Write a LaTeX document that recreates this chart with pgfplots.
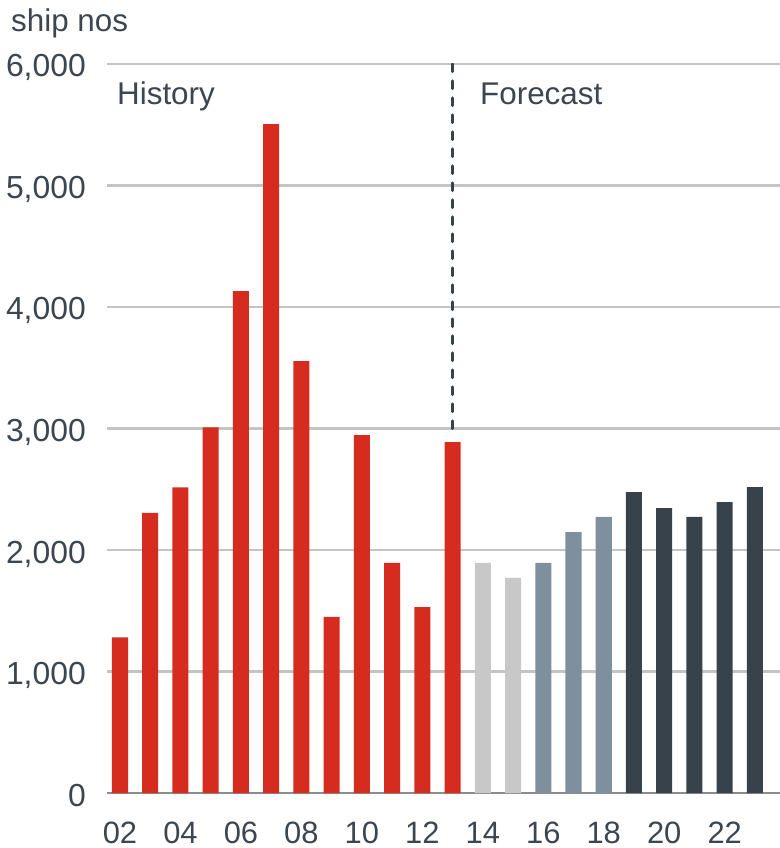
\documentclass[border=0pt]{standalone}
\usepackage{fontspec}
\setmainfont{Liberation Sans}
\usepackage{pgfplots}
\pgfplotsset{compat=1.18}

\definecolor{histred}{RGB}{214,43,31}
\definecolor{lightg}{RGB}{200,200,200}
\definecolor{bluegray}{RGB}{126,143,158}
\definecolor{darkslate}{RGB}{56,66,75}
\definecolor{txt}{RGB}{60,70,80}
\definecolor{gridg}{RGB}{196,196,196}
\definecolor{axisg}{RGB}{140,140,140}

\begin{document}
\begin{tikzpicture}
\path[use as bounding box] (0,0) rectangle (780bp,848bp);
\begin{axis}[
    at={(107bp,55bp)}, anchor=south west,
    scale only axis,
    width=673bp, height=729bp,
    xmin=1.57, xmax=23.83,
    ymin=0, ymax=6000,
    ybar, bar width=0.53, bar shift=0pt,
    axis x line*=bottom, axis y line*=left,
    x axis line style={-, draw=axisg, line width=2.5bp},
    y axis line style={draw=none},
    major tick length=0pt,
    ymajorgrids,
    grid style={gridg, line width=2.2bp},
    xtick={2,4,...,22},
    xticklabels={02,04,06,08,10,12,14,16,18,20,22},
    ytick={0,1000,...,6000},
    yticklabels={0,{1,000},{2,000},{3,000},{4,000},{5,000},{6,000}},
    tick label style={text=txt, inner sep=0pt},
    xticklabel style={font=\fontsize{31}{36}\selectfont, anchor=base, yshift=-50bp},
    yticklabel style={font=\fontsize{32}{38}\selectfont, anchor=base east, xshift=-21bp, yshift=-13bp},
    /pgf/number format/assume math mode=true,
]
\addplot[fill=histred, draw=none] coordinates {
    (2,1280) (3,2305) (4,2515) (5,3010) (6,4130) (7,5505)
    (8,3555) (9,1450) (10,2945) (11,1893) (12,1530) (13,2888)
};
\addplot[fill=lightg, draw=none] coordinates {
    (14,1893) (15,1770)
};
\addplot[fill=bluegray, draw=none] coordinates {
    (16,1893) (17,2148) (18,2272)
};
\addplot[fill=darkslate, draw=none] coordinates {
    (19,2477) (20,2345) (21,2272) (22,2394) (23,2518)
};
\draw[darkslate, line width=3.5bp, line cap=round, dash pattern=on 7.5bp off 9.5bp]
    (axis cs:13,6000) -- (axis cs:13,3000);
\end{axis}
\begin{scope}[every node/.style={inner sep=0pt, text=txt, font=\fontsize{31.5}{37}\selectfont}]
\node[anchor=base west] at (11bp,816bp) {ship nos};
\node[anchor=base west] at (117bp,743bp) {History};
\node[anchor=base west] at (480bp,743bp) {Forecast};
\end{scope}
\end{tikzpicture}
\end{document}
